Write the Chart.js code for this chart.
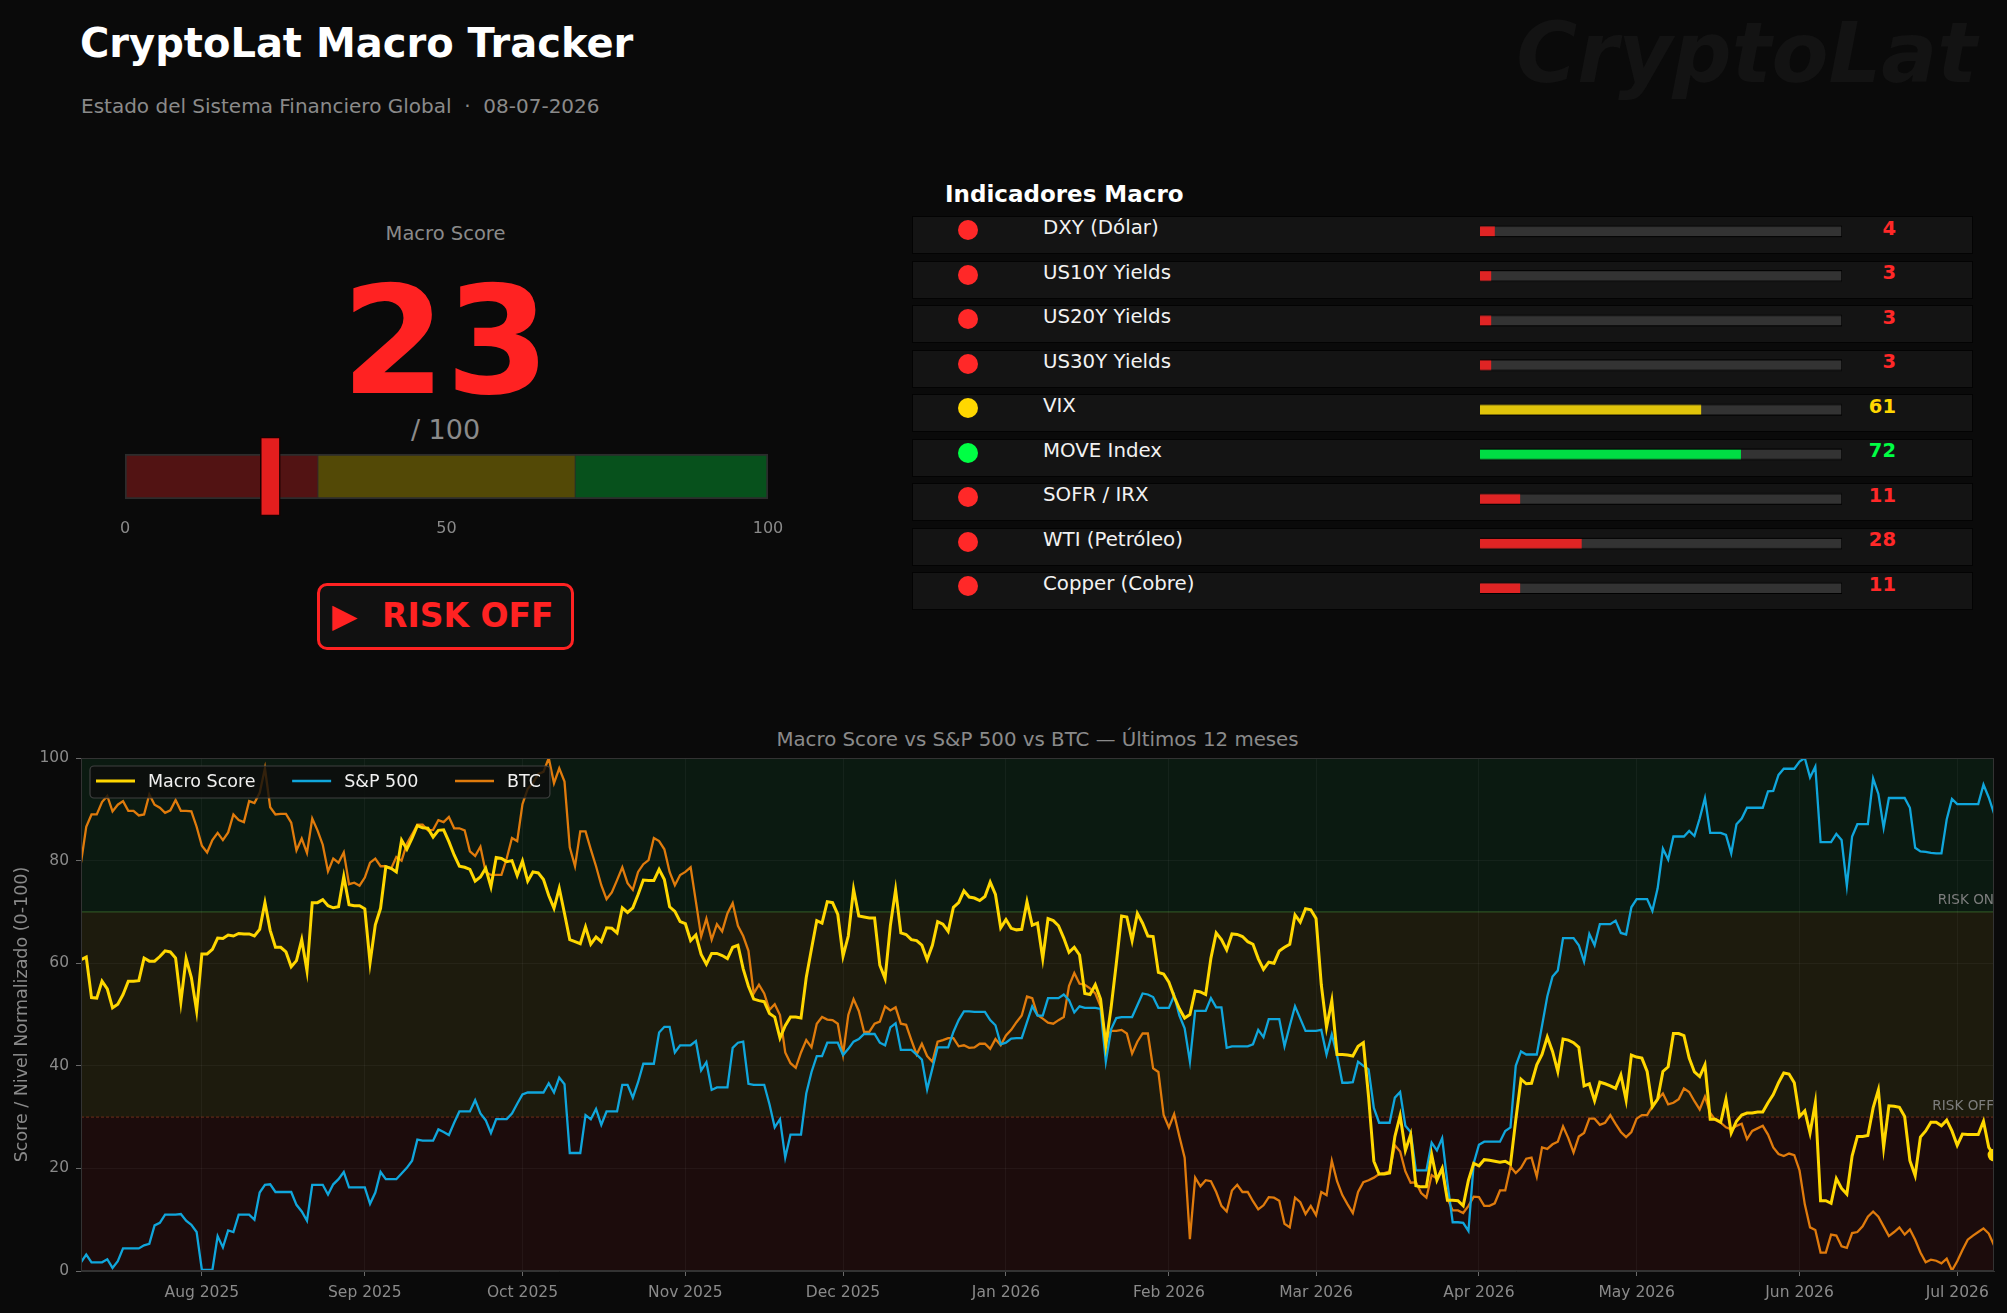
<!DOCTYPE html>
<html>
<head>
<meta charset="utf-8">
<title>CryptoLat Macro Tracker</title>
<script src="https://cdn.jsdelivr.net/npm/chart.js@4.4.1/dist/chart.umd.min.js"></script>
<style>
  html, body { margin: 0; padding: 0; background: #0a0a0a; }
  body { width: 2007px; height: 1313px; position: relative; overflow: hidden; font-family: 'DejaVu Sans', sans-serif; }
  .abs { position: absolute; white-space: pre; line-height: 1; }
  .row { position: absolute; left: 912px; width: 1059px; height: 36px; background: #141414; border: 1px solid #030303; }
  .dot { position: absolute; width: 20px; height: 20px; border-radius: 50%; }
  .box { position: absolute; }
</style>
</head>
<body>

<div class="abs" id="watermark" style="right:30px; top:12px; font-size:83px; font-weight:bold; font-style:italic; color:#131313;">CryptoLat</div>
<div class="abs" style="left:80px; top:22.6px; font-size:40px; font-weight:bold; color:#ffffff;">CryptoLat Macro Tracker</div>
<div class="abs" id="subtitle" style="left:81px; top:95.8px; font-size:20px; color:#8a8a8a;"></div>

<div class="abs" style="left:245px; width:401px; text-align:center; top:224px; font-size:19.5px; color:#8a8a8a;">Macro Score</div>
<div class="abs" id="bigScore" style="left:145px; width:601px; text-align:center; top:265.6px; font-size:150px; font-weight:bold;"></div>
<div class="abs" style="left:245px; width:401px; text-align:center; top:416px; font-size:27px; color:#8a8a8a;">/ 100</div>

<div class="box" style="left:94.6px; top:437px; width:703px; height:103px;"><canvas id="gauge"></canvas></div>

<div id="regime" style="position:absolute; left:317px; top:583px; width:251px; height:61px; border:3px solid #ff2222; border-radius:10px; background:#111111;"></div>
<div class="abs" id="regimeArrow" style="left:332px; top:598.7px; font-size:33px; font-weight:bold;">▶</div>
<div class="abs" id="regimeText" style="left:382px; top:598.7px; font-size:33px; font-weight:bold;"></div>

<div class="abs" style="left:945px; top:183.2px; font-size:23px; font-weight:bold; color:#ffffff;">Indicadores Macro</div>
<div id="rows"></div>
<div class="box" style="left:1480px; top:209.25px; width:362px; height:400.5px;"><canvas id="indicators"></canvas></div>

<div class="abs" id="chartTitle" style="left:537.5px; width:1000px; text-align:center; top:729.6px; font-size:19.8px; color:#8a8a8a;"></div>
<div class="box" style="left:0px; top:720px; width:2007px; height:593px;"><canvas id="history"></canvas></div>

<script>
// ---- data ----
const reportDate = '08-07-2026'
const chartTitleText = 'Macro Score vs S&P 500 vs BTC — Últimos 12 meses'

const indicatorNames = ['DXY (Dólar)', 'US10Y Yields', 'US20Y Yields', 'US30Y Yields', 'VIX', 'MOVE Index', 'SOFR / IRX', 'WTI (Petróleo)', 'Copper (Cobre)']
const indicatorScores = [4, 3, 3, 3, 61, 72, 11, 28, 11]

const zoneLimits = [30, 70]
const gaugeTicks = [0, 50, 100]

// daily series from 09-07-2025 (day 0) to 08-07-2026 (day 364)
const monthStarts = [23, 54, 84, 115, 145, 176, 207, 235, 266, 296, 327, 357]
const monthLabels = ['Aug 2025', 'Sep 2025', 'Oct 2025', 'Nov 2025', 'Dec 2025', 'Jan 2026', 'Feb 2026', 'Mar 2026', 'Apr 2026', 'May 2026', 'Jun 2026', 'Jul 2026']

const macroScore = [
  60.7, 61.2, 53.3, 53.2, 56.5, 55, 51.3, 52, 53.9, 56.5,
  56.5, 56.6, 61, 60.4, 60.4, 61.3, 62.4, 62.2, 61, 52.4,
  60.9, 57.2, 50.7, 61.8, 61.8, 62.7, 64.9, 64.8, 65.5, 65.3,
  65.8, 65.7, 65.7, 65.3, 66.6, 71.8, 66.4, 63.1, 63.1, 62.2,
  59.3, 60.5, 64.6, 58.5, 71.8, 71.8, 72.4, 71.2, 70.8, 71,
  76.9, 71.4, 71.2, 71.2, 70.6, 60.1, 67.5, 70.7, 78.8, 78.5,
  77.8, 84, 82.2, 84.4, 86.8, 86.4, 86.3, 84.6, 85.9, 86,
  83.7, 81.1, 78.9, 78.7, 78.3, 76, 76.8, 78.5, 74.9, 80.6,
  80.4, 79.8, 80, 77.1, 79.9, 76, 77.8, 77.6, 76.3, 73.2,
  70.7, 74.6, 69.7, 64.6, 64.2, 63.8, 67.1, 63.7, 65.1, 64.2,
  66.9, 66.8, 65.9, 70.8, 69.9, 70.8, 73.4, 76.2, 76.1, 76.1,
  78.3, 76.3, 71, 70.1, 68.1, 67.7, 64.4, 65.5, 61.7, 59.8,
  61.9, 61.9, 61.5, 60.9, 63.1, 63.5, 58.9, 55.5, 53, 52.7,
  52.5, 50.2, 49.5, 45.4, 47.8, 49.5, 49.5, 49.3, 57.2, 62.8,
  68.3, 67.8, 72, 71.8, 69.5, 61.4, 65.3, 74.4, 69.2, 69,
  68.8, 68.8, 59.6, 57, 67.3, 74.3, 65.9, 65.6, 64.6, 64.4,
  63.5, 60.7, 63.5, 68.1, 67.6, 66.2, 70.9, 71.8, 74.1, 72.9,
  72.7, 72.2, 73, 75.8, 73.4, 66.9, 68.5, 66.8, 66.5, 66.6,
  72, 67.4, 67.8, 60.9, 68.7, 68.3, 67.3, 64.9, 62.1, 63.1,
  61.6, 54.1, 53.9, 55.8, 53, 44, 51.3, 60, 69.2, 69,
  64.4, 69.7, 67.8, 65.3, 65.2, 58.2, 57.9, 56.3, 53.5, 51.1,
  49.3, 50, 54.6, 54.4, 53.9, 61, 65.9, 64.6, 62.6, 65.7,
  65.6, 65.2, 64.2, 63.7, 60.9, 58.8, 60.2, 60, 62.4, 63.1,
  63.7, 69.4, 68, 70.6, 70.4, 68.7, 55.8, 47.5, 52.7, 42.2,
  42.2, 42.1, 41.9, 43.8, 44.5, 33.9, 21.4, 18.9, 18.9, 19.1,
  26.2, 30.3, 23.5, 26.6, 16.6, 16.4, 16.4, 22.7, 17.7, 20,
  13.8, 13.8, 13.7, 12.7, 17.7, 21, 20.5, 21.7, 21.6, 21.4,
  21.2, 21.4, 20.8, 29.4, 37.4, 36.5, 36.6, 40.2, 42.2, 45.6,
  42.8, 38.9, 45.2, 45, 44.5, 43.6, 36.1, 36.5, 33.2, 36.8,
  36.5, 36.1, 35.6, 38.2, 33.3, 42.1, 41.7, 41.5, 38.9, 32,
  33.5, 38.9, 39.8, 46.3, 46.3, 45.9, 41.5, 38.8, 37.9, 40.2,
  29.6, 29.6, 29, 33.5, 26.9, 29.2, 30.4, 30.8, 30.8, 31,
  31, 32.8, 34.4, 36.7, 38.6, 38.4, 36.7, 30.1, 31.2, 26.9,
  32.8, 13.7, 13.7, 13.2, 18, 16.1, 15, 22.4, 26.2, 26.2,
  26.4, 31.8, 35.3, 24.1, 32.2, 32.1, 31.9, 30.1, 21.5, 18.6,
  26.1, 27.3, 29, 29, 28.3, 29.4, 27.3, 24.5, 26.7, 26.6,
  26.6, 26.6, 29.2, 24.1, 22.6
]

const sp500 = [
  1.7, 3.2, 1.7, 1.7, 1.7, 2.3, 0.6, 1.9, 4.4, 4.4,
  4.4, 4.4, 5, 5.3, 8.9, 9.4, 11, 11, 11, 11.1,
  9.8, 9, 7.6, 0.2, 0.2, 0.2, 6.8, 4.6, 7.9, 7.6,
  11, 11, 11, 10, 15.3, 16.8, 16.9, 15.4, 15.4, 15.4,
  15.4, 12.9, 11.6, 9.8, 16.8, 16.8, 16.8, 14.9, 16.9, 17.9,
  19.3, 16.3, 16.3, 16.3, 16.3, 13.1, 15.3, 19.3, 17.9, 17.9,
  17.9, 19, 20.1, 21.5, 25.6, 25.4, 25.4, 25.4, 27.6, 27.1,
  26.5, 28.9, 31.1, 31.1, 31.1, 33.3, 30.7, 29.4, 26.9, 29.6,
  29.6, 29.6, 30.7, 32.6, 34.4, 34.8, 34.8, 34.8, 34.8, 36.6,
  34.8, 37.7, 36.4, 23, 23, 23, 30.4, 29.6, 31.6, 28.5,
  31.1, 31.1, 31.1, 36.3, 36.3, 33.8, 36.8, 40.4, 40.4, 40.4,
  46.5, 47.6, 47.6, 42.6, 44, 44, 44, 44.8, 39.1, 40.7,
  35.3, 35.8, 35.8, 35.8, 43.5, 44.5, 44.7, 36.5, 36.3, 36.3,
  36.3, 32.5, 28, 29.6, 22.1, 26.6, 26.6, 26.6, 34.6, 38.8,
  41.9, 41.9, 44.5, 44.5, 44.5, 42.1, 43.3, 44.7, 45.2, 46.2,
  46.2, 46.2, 44.5, 44, 47.5, 48.3, 43.1, 43.1, 43.1, 42.2,
  41.2, 35.4, 39.5, 43.6, 43.6, 43.6, 46.6, 48.9, 50.6, 50.6,
  50.5, 50.5, 50.5, 48.9, 47.9, 44.2, 44.5, 45.3, 45.4, 45.4,
  48.5, 51.6, 49.8, 49.8, 53.2, 53.2, 53.2, 53.9, 52.8, 50.4,
  51.6, 51.3, 51.3, 51.3, 51.1, 40.8, 47.1, 49.3, 49.5, 49.5,
  49.5, 51.8, 54.1, 53.9, 53.4, 51.3, 51.3, 51.3, 53.7, 49.8,
  47.3, 40.8, 50.7, 50.7, 50.7, 53.2, 51.4, 51.4, 43.5, 43.8,
  43.8, 43.8, 43.8, 44.2, 47, 45.6, 49.1, 49.1, 49.1, 43.8,
  47.8, 51.6, 49.2, 46.8, 46.8, 46.8, 47, 42.2, 46.1, 42,
  36.7, 36.7, 36.8, 40.8, 40, 39.3, 31.8, 28.9, 28.9, 28.9,
  33.8, 34.9, 28.3, 27.1, 19.6, 19.6, 19.6, 25, 23.5, 25.9,
  17.2, 9.5, 9.5, 9.4, 7.8, 21, 24.6, 25.2, 25.2, 25.2,
  25.2, 27.3, 28, 40, 42.8, 42.2, 42.2, 42.2, 47.8, 53.5,
  57.4, 58.6, 64.9, 64.9, 64.9, 63.5, 60.3, 65.7, 63.5, 67.6,
  67.6, 67.6, 68.3, 65.9, 65.6, 70.9, 72.5, 72.5, 72.5, 70.2,
  74.6, 82.3, 80.2, 84.7, 84.7, 84.7, 85.8, 84.8, 88.2, 92.2,
  85.4, 85.4, 85.4, 85, 81.4, 87.1, 88.2, 90.3, 90.3, 90.3,
  90.3, 93.5, 93.6, 96.7, 97.9, 97.9, 97.9, 99.3, 100, 96.2,
  98.3, 83.6, 83.6, 83.6, 85.2, 84, 75.1, 84.7, 87.1, 87.1,
  87.1, 96, 93, 86.4, 92.2, 92.2, 92.2, 92.2, 90.3, 82.5,
  81.8, 81.7, 81.5, 81.4, 81.4, 88, 92, 91, 91, 91,
  91, 91, 94.8, 92.3, 89.2
]

const btc = [
  79.6, 86.6, 89, 89, 91.4, 92.6, 89.6, 90.9, 91.6, 89.7,
  89.7, 88.8, 89, 92.9, 90.9, 90.3, 89.3, 89.8, 91.8, 89.7,
  89.7, 89.6, 86.6, 82.9, 81.6, 84, 85.4, 84, 85.5, 89,
  87.9, 87.5, 91.6, 91.2, 93.2, 98, 90.4, 89, 89.1, 89.1,
  87.4, 82, 84.3, 81.5, 88.2, 85.9, 83.1, 77.9, 80.4, 79.6,
  81.6, 75.4, 75.7, 75.1, 76.7, 79.6, 80.4, 78.9, 78.9, 78.4,
  80.7, 80, 83.3, 85.1, 87, 87, 85.9, 86, 87.9, 87.5,
  88.5, 86.3, 86.3, 85.9, 81.8, 80.9, 82.7, 77.8, 77.2, 77.2,
  77.2, 80.4, 84.4, 83.8, 91, 94, 95.1, 96.9, 97.3, 100,
  95.1, 98, 95.4, 82.6, 78.9, 85.7, 85.7, 82.2, 78.9, 75.2,
  72.5, 73.8, 76.2, 78.7, 75.6, 74.3, 77.8, 79.3, 80.1, 84.4,
  83.8, 82.2, 77.8, 75.2, 77.2, 77.8, 78.7, 72, 65.2, 68.7,
  64.6, 67.6, 66.2, 69.7, 71.7, 67.3, 65.3, 62.4, 54.1, 55.8,
  54.1, 50.9, 52, 49.9, 42.6, 40.5, 39.6, 42.6, 45, 43.6,
  48.2, 49.5, 49, 48.9, 48.2, 42.2, 49.9, 53, 50.7, 46.6,
  46.6, 48.2, 48.6, 51.6, 50.8, 51.4, 48.2, 48, 45, 42.2,
  44.3, 41.9, 40.8, 44.7, 45, 45.4, 45.4, 43.8, 44, 43.5,
  43.6, 44.3, 44.3, 43.3, 45.2, 44, 45.9, 47, 48.5, 49.8,
  53.5, 53.2, 49.9, 49.2, 48.4, 48.2, 48.9, 49.5, 55.6, 58.1,
  56, 55.8, 55.1, 54.1, 51.6, 45, 46.8, 46.8, 47, 46.3,
  42.4, 44.7, 46.3, 46.3, 39.5, 38.8, 30.4, 28, 30.6, 26.2,
  22.1, 6.2, 18.2, 16.5, 17.7, 17.5, 15.4, 12.7, 11.6, 15.7,
  16.8, 15.4, 15.4, 13.6, 12, 12.8, 14.4, 14.3, 13.7, 9.2,
  8.5, 14.3, 13.4, 11.1, 12.7, 10.9, 15.4, 14.8, 21.5, 17.5,
  14.8, 13, 11.3, 15.4, 17.3, 17.7, 18.2, 18.9, 19.1, 19.4,
  24.5, 23.3, 19.4, 17.2, 17.3, 15.2, 14.3, 18.7, 18, 20.1,
  14.1, 11.8, 11.8, 11.3, 12.7, 14.5, 14.4, 12.7, 12.7, 13.2,
  15.7, 15.7, 20.3, 19.1, 20.1, 21.9, 22.1, 18.4, 24.1, 23.8,
  24.7, 25.2, 28.2, 25.9, 23.1, 26.2, 26.9, 29.7, 29.7, 28.5,
  28.9, 30.4, 28.7, 27.1, 26.1, 27.1, 29.7, 30.4, 30.4, 32.2,
  33.5, 34.6, 32.5, 32.8, 33.5, 35.6, 34.9, 33.1, 31.5, 34,
  30.8, 29.4, 28.9, 28, 27.6, 28.3, 28.7, 25.7, 27.3, 27.8,
  28.3, 26.6, 24.1, 22.8, 22.4, 22.9, 22.6, 19.6, 13, 8.5,
  8, 3.6, 3.6, 7.1, 6.9, 4.8, 4.5, 7.4, 7.6, 8.7,
  10.6, 11.6, 10.6, 8.7, 6.8, 7.6, 8.5, 7.1, 8.1, 6.1,
  3.6, 1.7, 2.2, 2, 1.5, 2.4, 0.1, 1.9, 4.1, 6.1,
  6.9, 7.6, 8.3, 7.3, 5
]

// ---- helpers ----
Chart.defaults.font.family = "'DejaVu Sans', sans-serif"
Chart.defaults.animation = false

const days = macroScore.map((v, i) => i)
const currentScore = macroScore[macroScore.length - 1]

function dotColor(s) {
    if (s < zoneLimits[0]) return '#ff2828'
    if (s < zoneLimits[1]) return '#ffd700'
    return '#00ff44'
}
function fillColor(s) {
    if (s < zoneLimits[0]) return '#e02424'
    if (s < zoneLimits[1]) return '#e0c40a'
    return '#00dd44'
}

// ---- header ----
document.querySelector('#subtitle').textContent = 'Estado del Sistema Financiero Global  ·  ' + reportDate
document.querySelector('#chartTitle').textContent = chartTitleText

const bigScore = document.querySelector('#bigScore')
bigScore.textContent = Math.round(currentScore)
bigScore.style.color = currentScore < zoneLimits[0] ? '#ff2222' : (currentScore < zoneLimits[1] ? '#ffd700' : '#00ff44')

const regimeText = document.querySelector('#regimeText')
regimeText.textContent = currentScore < zoneLimits[0] ? 'RISK OFF' : (currentScore < zoneLimits[1] ? 'NEUTRAL' : 'RISK ON')
regimeText.style.color = bigScore.style.color
document.querySelector('#regimeArrow').style.color = bigScore.style.color

// ---- gauge ----
new Chart(document.querySelector('#gauge'), {
    type: 'bar',
    data: {
        labels: ['score'],
        datasets: [
            {data: [[currentScore - 1.55, currentScore + 1.55]], backgroundColor: '#e41e1e', borderColor: '#1a0000', borderWidth: 1.5, borderSkipped: false, barThickness: 79, order: 0},
            {data: [[0, zoneLimits[0]]], backgroundColor: '#521313', borderColor: '#2c2c2c', borderWidth: {top: 2, bottom: 2, left: 2, right: 0.75}, borderSkipped: false, barThickness: 45, order: 1},
            {data: [[zoneLimits[0], zoneLimits[1]]], backgroundColor: '#534906', borderColor: '#2c2c2c', borderWidth: {top: 2, bottom: 2, left: 0.75, right: 0.75}, borderSkipped: false, barThickness: 45, order: 1},
            {data: [[zoneLimits[1], 100]], backgroundColor: '#07511c', borderColor: '#2c2c2c', borderWidth: {top: 2, bottom: 2, left: 0.75, right: 2}, borderSkipped: false, barThickness: 45, order: 1}
        ]
    },
    options: {
        indexAxis: 'y',
        responsive: true,
        maintainAspectRatio: false,
        layout: {padding: {left: 30, right: 30, top: 0, bottom: 0}},
        datasets: {bar: {grouped: false}},
        plugins: {legend: {display: false}, tooltip: {enabled: false}},
        scales: {
            x: {
                min: 0, max: 100,
                afterBuildTicks: s => { s.ticks = gaugeTicks.map(v => ({value: v})) },
                afterFit: s => { s.height = 24 },
                grid: {display: false, drawTicks: false},
                border: {display: false},
                ticks: {color: '#8a8a8a', font: {size: 16}, padding: 3, maxRotation: 0}
            },
            y: {display: false}
        }
    }
})

// ---- indicator rows ----
const rowsDiv = document.querySelector('#rows')
indicatorNames.forEach(function (name, i) {
    const top = 216 + i * 44.5
    const score = indicatorScores[i]

    const row = document.createElement('div')
    row.className = 'row'
    row.style.top = top + 'px'
    rowsDiv.appendChild(row)

    const dot = document.createElement('div')
    dot.className = 'dot'
    dot.style.left = '958px'
    dot.style.top = (top + 4.3) + 'px'
    dot.style.background = dotColor(score)
    rowsDiv.appendChild(dot)

    const label = document.createElement('div')
    label.className = 'abs'
    label.style.left = '1043px'
    label.style.top = (top + 19 - 0.846 * 19.8) + 'px'
    label.style.fontSize = '19.8px'
    label.style.color = '#f2f2f2'
    label.textContent = name
    rowsDiv.appendChild(label)

    const value = document.createElement('div')
    value.className = 'abs'
    value.style.left = '1826px'
    value.style.width = '70px'
    value.style.textAlign = 'right'
    value.style.top = (top + 19.3 - 0.846 * 19.5) + 'px'
    value.style.fontSize = '19.5px'
    value.style.fontWeight = 'bold'
    value.style.color = dotColor(score)
    value.textContent = score
    rowsDiv.appendChild(value)
})

new Chart(document.querySelector('#indicators'), {
    type: 'bar',
    data: {
        labels: indicatorNames,
        datasets: [
            {data: indicatorScores, backgroundColor: indicatorScores.map(fillColor), borderWidth: 0, barThickness: 9, order: 0},
            {data: indicatorScores.map(() => 100), backgroundColor: '#333333', borderColor: '#000000', borderWidth: 1, borderSkipped: false, barThickness: 11, order: 1}
        ]
    },
    options: {
        indexAxis: 'y',
        responsive: true,
        maintainAspectRatio: false,
        layout: {padding: 0},
        datasets: {bar: {grouped: false}},
        plugins: {legend: {display: false}, tooltip: {enabled: false}},
        scales: {
            x: {display: false, min: 0, max: 100},
            y: {display: false}
        }
    }
})

// ---- history chart ----
const zonesPlugin = {
    id: 'zones',
    beforeDraw(chart) {
        const {ctx, chartArea: a, scales: {y}} = chart
        const yLow = y.getPixelForValue(zoneLimits[0])
        const yHigh = y.getPixelForValue(zoneLimits[1])
        ctx.save()
        ctx.fillStyle = '#0b1a11'
        ctx.fillRect(a.left, a.top, a.right - a.left, yHigh - a.top)
        ctx.fillStyle = '#1d1b0d'
        ctx.fillRect(a.left, yHigh, a.right - a.left, yLow - yHigh)
        ctx.fillStyle = '#1c0c0c'
        ctx.fillRect(a.left, yLow, a.right - a.left, a.bottom - yLow)

        ctx.lineWidth = 1.2
        ctx.strokeStyle = 'rgba(50,95,40,0.8)'
        ctx.beginPath(); ctx.moveTo(a.left, yHigh); ctx.lineTo(a.right, yHigh); ctx.stroke()
        ctx.setLineDash([3, 2])
        ctx.strokeStyle = 'rgba(110,45,25,0.8)'
        ctx.beginPath(); ctx.moveTo(a.left, yLow); ctx.lineTo(a.right, yLow); ctx.stroke()
        ctx.setLineDash([])

        ctx.fillStyle = '#7d7d7d'
        ctx.font = "13.6px 'DejaVu Sans'"
        ctx.textAlign = 'right'
        ctx.textBaseline = 'alphabetic'
        ctx.fillText('RISK ON', a.right, yHigh - 8)
        ctx.fillText('RISK OFF', a.right, yLow - 7)
        ctx.restore()
    },
    afterDatasetsDraw(chart) {
        const {ctx, chartArea: a} = chart
        const sets = chart.data.datasets
        ctx.save()
        ctx.font = "17.5px 'DejaVu Sans'"
        let w = 6
        sets.forEach(function (ds, i) {
            w += 39 + 13 + ctx.measureText(ds.label).width
            if (i < sets.length - 1) w += 36.6
        })
        w += 9
        const bx = a.left + 9, by = a.top + 8, bh = 32
        ctx.fillStyle = 'rgba(12,14,12,0.82)'
        ctx.strokeStyle = 'rgba(70,70,70,0.9)'
        ctx.lineWidth = 1.2
        ctx.beginPath()
        ctx.roundRect(bx, by, w, bh, 4)
        ctx.fill()
        ctx.stroke()

        let x = bx + 6
        const cy = by + 15
        ctx.textBaseline = 'middle'
        ctx.textAlign = 'left'
        sets.forEach(function (ds) {
            ctx.strokeStyle = ds.borderColor
            ctx.lineWidth = ds.borderWidth
            ctx.beginPath(); ctx.moveTo(x, cy); ctx.lineTo(x + 39, cy); ctx.stroke()
            x += 39 + 13
            ctx.fillStyle = '#f0f0f0'
            ctx.fillText(ds.label, x, cy + 1)
            x += ctx.measureText(ds.label).width + 36.6
        })
        ctx.restore()
    },
    afterDraw(chart) {
        const {ctx, chartArea: a} = chart
        ctx.save()
        ctx.strokeStyle = '#333333'
        ctx.lineWidth = 1
        ctx.strokeRect(a.left + 0.5, a.top + 0.5, a.right - a.left - 1, a.bottom - a.top - 1)
        ctx.restore()
    }
}

const lastIndex = macroScore.length - 1

new Chart(document.querySelector('#history'), {
    type: 'line',
    data: {
        labels: days,
        datasets: [
            {
                label: 'Macro Score', data: macroScore, borderColor: '#ffd700', borderWidth: 3,
                pointRadius: c => c.dataIndex === lastIndex ? 6.4 : 0,
                pointBackgroundColor: '#ffd700', pointBorderWidth: 0, tension: 0
            },
            {label: 'S&P 500', data: sp500, borderColor: '#10a6dc', borderWidth: 2.3, pointRadius: 0, tension: 0},
            {label: 'BTC', data: btc, borderColor: '#e07b0c', borderWidth: 2.3, pointRadius: 0, tension: 0}
        ]
    },
    options: {
        responsive: true,
        maintainAspectRatio: false,
        layout: {padding: {left: 0, right: 13, top: 38, bottom: 0}},
        plugins: {legend: {display: false}, tooltip: {enabled: false}},
        scales: {
            x: {
                type: 'linear',
                min: 0, max: lastIndex,
                afterBuildTicks: s => { s.ticks = monthStarts.map(v => ({value: v})) },
                afterFit: s => { s.height = 42 },
                grid: {color: 'rgba(255,255,255,0.045)', tickColor: '#6a6a6a', tickLength: 5},
                border: {color: '#333333'},
                ticks: {
                    color: '#8a8a8a', font: {size: 15.5}, padding: 8, autoSkip: false, maxRotation: 0,
                    callback: v => monthLabels[monthStarts.indexOf(v)]
                }
            },
            y: {
                min: 0, max: 100,
                afterFit: s => { s.width = 81 },
                grid: {color: 'rgba(255,255,255,0.045)', tickColor: '#6a6a6a', tickLength: 5},
                border: {color: '#333333'},
                ticks: {stepSize: 20, color: '#8a8a8a', font: {size: 15.5}, padding: 7},
                title: {display: true, text: 'Score / Nivel Normalizado (0-100)', color: '#8a8a8a', font: {size: 17.5}, padding: {top: 11.5, bottom: 0}}
            }
        }
    },
    plugins: [zonesPlugin]
})
</script>
</body>
</html>
